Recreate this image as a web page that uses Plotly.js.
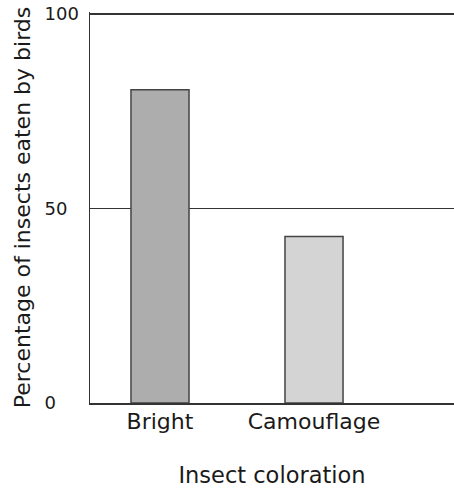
<!DOCTYPE html>
<html>
<head>
<meta charset="utf-8">
<script src="https://cdn.plot.ly/plotly-3.0.1.min.js"></script>
<style>html,body{margin:0;padding:0;background:#fff;}#chart{width:454px;height:488px;}</style>
</head>
<body>
<div id="chart"></div>
<script>
const categories = ["Bright", "Camouflage"];
const percentEaten = [80.5, 42.8];
const barColors = ["#adadad", "#d4d4d4"];
const yTickVals = [0, 50, 100];
const yTickText = ["0\u2007\u2007", "50\u2007", "100"];
const xTitle = "Insect coloration";
const yTitle = "Percentage of insects eaten by birds";

const trace = {
  type: "bar",
  x: [0, 1],
  y: percentEaten,
  width: 0.377,
  marker: { color: barColors, line: { color: "#444", width: 1.5 } },
  hoverinfo: "skip"
};

const layout = {
  width: 454, height: 488,
  margin: { l: 90, r: 0, t: 12, b: 85, pad: 0 },
  paper_bgcolor: "#fff", plot_bgcolor: "#fff",
  font: { family: "DejaVu Sans, Verdana, sans-serif", color: "#1a1a1a" },
  showlegend: false,
  bargap: 0,
  xaxis: {
    range: [-0.4545, 1.909],
    tickvals: [0, 1], ticktext: categories,
    tickfont: { size: 22, color: "#1a1a1a" },
    ticks: "", showgrid: false, zeroline: false,
    showline: true, linecolor: "#333", linewidth: 1.5,
    ticklabelstandoff: -2,
    title: { text: xTitle, font: { size: 22.5, color: "#1a1a1a" }, standoff: 34 },
    fixedrange: true
  },
  yaxis: {
    range: [0, 100.5],
    tickvals: yTickVals, ticktext: yTickText,
    tickfont: { size: 18, color: "#1a1a1a" },
    ticks: "", showgrid: true, gridcolor: "#333", gridwidth: 1.5,
    zeroline: false,
    showline: true, linecolor: "#333", linewidth: 1.5,
    ticklabelstandoff: 6,
    title: { text: yTitle, font: { size: 22, color: "#1a1a1a" }, standoff: 8 },
    fixedrange: true
  }
};

Plotly.newPlot("chart", [trace], layout, { displayModeBar: false, staticPlot: true });
</script>
</body>
</html>
